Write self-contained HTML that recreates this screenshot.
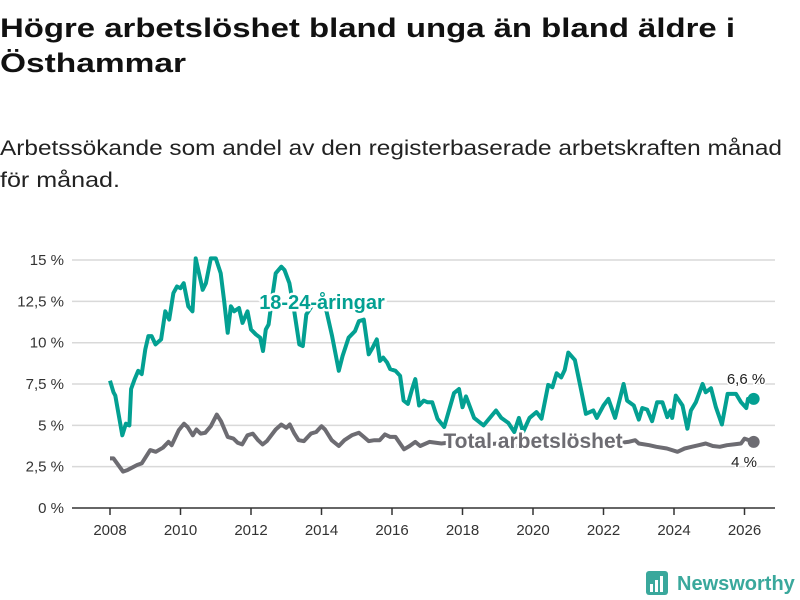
<!DOCTYPE html>
<html><head><meta charset="utf-8"><style>
body{margin:0;background:#fff;}
svg{display:block;font-family:"Liberation Sans",sans-serif;}
</style></head><body>
<svg id="chart" width="800" height="600" viewBox="0 0 800 600">
<text x="0" y="37" font-size="27" font-weight="bold" fill="#111" textLength="735" lengthAdjust="spacingAndGlyphs">Högre arbetslöshet bland unga än bland äldre i</text>
<text x="0" y="72" font-size="27" font-weight="bold" fill="#111" textLength="186" lengthAdjust="spacingAndGlyphs">Östhammar</text>
<text x="0" y="155" font-size="21" fill="#222" textLength="782" lengthAdjust="spacingAndGlyphs">Arbetssökande som andel av den registerbaserade arbetskraften månad</text>
<text x="0" y="187" font-size="21" fill="#222" textLength="120" lengthAdjust="spacingAndGlyphs">för månad.</text>
<g id="grid"></g>
<g id="xaxis"></g>
<g id="series"></g>
<g id="labels"></g>
<g>
<rect x="646" y="571" width="22" height="24" rx="3" fill="#3aa89c"/>
<rect x="650" y="584" width="3" height="8" fill="#fff"/><rect x="655" y="580" width="3" height="12" fill="#fff"/><rect x="660" y="576" width="3" height="16" fill="#fff"/>
<text x="677" y="590" font-size="20" font-weight="bold" fill="#3aa89c">Newsworthy</text>
</g>
</svg>
<script>
const yTickValues=[0,2.5,5,7.5,10,12.5,15];
const yTickLabels=["0 %","2,5 %","5 %","7,5 %","10 %","12,5 %","15 %"];
const xTickYears=[2008,2010,2012,2014,2016,2018,2020,2022,2024,2026];
const youthYears=[2008.0,2008.1,2008.15,2008.35,2008.45,2008.55,2008.6,2008.7,2008.8,2008.9,2009.0,2009.09,2009.18,2009.29,2009.45,2009.57,2009.68,2009.8,2009.9,2010.0,2010.09,2010.22,2010.34,2010.43,2010.63,2010.72,2010.86,2011.0,2011.14,2011.24,2011.34,2011.43,2011.52,2011.66,2011.76,2011.9,2012.0,2012.14,2012.26,2012.34,2012.42,2012.5,2012.6,2012.7,2012.86,2012.95,2013.09,2013.22,2013.37,2013.47,2013.57,2013.75,2014.1,2014.3,2014.49,2014.6,2014.77,2014.95,2015.06,2015.2,2015.34,2015.45,2015.57,2015.66,2015.75,2015.86,2015.95,2016.1,2016.23,2016.33,2016.45,2016.57,2016.66,2016.77,2016.9,2017.0,2017.14,2017.29,2017.48,2017.76,2017.9,2018.0,2018.1,2018.33,2018.6,2018.95,2019.1,2019.3,2019.47,2019.6,2019.72,2019.9,2020.1,2020.24,2020.43,2020.55,2020.67,2020.8,2020.9,2021.0,2021.19,2021.38,2021.5,2021.71,2021.81,2022.0,2022.14,2022.33,2022.57,2022.67,2022.86,2023.0,2023.1,2023.24,2023.38,2023.52,2023.67,2023.81,2023.9,2023.95,2024.05,2024.24,2024.38,2024.48,2024.62,2024.81,2024.9,2025.05,2025.19,2025.36,2025.52,2025.76,2025.9,2026.05,2026.1,2026.26];
const youthValues=[7.7,7.0,6.8,4.4,5.1,5.0,7.2,7.8,8.3,8.1,9.6,10.4,10.4,9.9,10.2,11.9,11.4,13.0,13.4,13.3,13.6,12.2,11.9,15.1,13.2,13.6,15.1,15.1,14.2,12.5,10.6,12.2,11.9,12.1,11.2,11.9,10.8,10.5,10.3,9.5,10.8,11.1,12.7,14.2,14.6,14.4,13.6,12.0,9.9,9.8,11.7,12.3,12.3,10.4,8.3,9.2,10.3,10.7,11.3,11.4,9.3,9.7,10.2,8.9,9.1,8.8,8.4,8.3,8.0,6.5,6.3,7.2,7.8,6.2,6.5,6.4,6.4,5.4,4.9,6.95,7.2,6.1,6.75,5.45,5.0,5.9,5.45,5.15,4.6,5.45,4.6,5.45,5.8,5.4,7.45,7.3,8.15,7.9,8.35,9.4,8.95,7.0,5.7,5.9,5.45,6.2,6.6,5.45,7.5,6.5,6.2,5.35,6.05,5.95,5.25,6.4,6.4,5.5,5.9,5.45,6.8,6.2,4.8,5.9,6.4,7.5,7.0,7.25,6.1,5.05,6.9,6.9,6.4,6.05,6.6,6.6];
const totalYears=[2008.0,2008.1,2008.37,2008.5,2008.77,2008.9,2009.14,2009.3,2009.5,2009.66,2009.75,2009.95,2010.1,2010.2,2010.35,2010.45,2010.57,2010.7,2010.86,2011.03,2011.15,2011.34,2011.5,2011.62,2011.75,2011.9,2012.05,2012.2,2012.33,2012.45,2012.7,2012.86,2013.0,2013.1,2013.23,2013.35,2013.5,2013.7,2013.85,2014.0,2014.1,2014.29,2014.49,2014.65,2014.86,2015.06,2015.2,2015.34,2015.5,2015.65,2015.8,2015.95,2016.1,2016.34,2016.5,2016.66,2016.8,2017.06,2017.4,2017.8,2018.3,2019.0,2019.7,2020.4,2021.0,2021.7,2022.3,2022.7,2022.9,2023.0,2023.3,2023.5,2023.8,2024.1,2024.3,2024.5,2024.7,2024.9,2025.1,2025.3,2025.5,2025.7,2025.9,2026.0,2026.26];
const totalValues=[3.0,3.0,2.2,2.3,2.6,2.7,3.5,3.4,3.65,4.0,3.8,4.7,5.1,4.9,4.4,4.75,4.5,4.55,4.95,5.65,5.25,4.3,4.2,3.95,3.85,4.4,4.5,4.1,3.85,4.05,4.75,5.05,4.85,5.05,4.5,4.1,4.05,4.5,4.6,4.95,4.75,4.1,3.75,4.1,4.4,4.55,4.3,4.05,4.1,4.1,4.45,4.3,4.3,3.55,3.75,4.0,3.75,4.0,3.9,4.0,3.8,3.9,3.7,3.9,4.0,3.9,3.9,4.0,4.1,3.9,3.8,3.7,3.6,3.4,3.6,3.7,3.8,3.9,3.75,3.7,3.8,3.85,3.9,4.2,4.0];
const NS="http://www.w3.org/2000/svg";
const x0=110,pxPerYear=35.25,y0=508,pxPerPct=16.53;
function xs(y){return x0+(y-2008)*pxPerYear;}
function ys(v){return y0-v*pxPerPct;}
function mk(tag,attrs,parent){const e=document.createElementNS(NS,tag);for(const k in attrs)e.setAttribute(k,attrs[k]);parent.appendChild(e);return e;}
const grid=document.getElementById('grid');
yTickValues.forEach((v,i)=>{
 if(v>0){const l=mk('line',{x1:72,x2:775,y1:ys(v),y2:ys(v),stroke:'#d9d9d9','stroke-width':1.5},grid);
 
 }
 const t=mk('text',{x:64,y:ys(v)+5,'text-anchor':'end','font-size':15,fill:'#333'},grid);
 t.textContent=yTickLabels[i];
 
 
});
const xa=document.getElementById('xaxis');
const ax=mk('line',{x1:72,x2:775,y1:508,y2:508,stroke:'#333','stroke-width':1.5},xa);


xTickYears.forEach(yr=>{
 const tk=mk('line',{x1:xs(yr),x2:xs(yr),y1:508,y2:515,stroke:'#333','stroke-width':1.5},xa);
 
 
 const t=mk('text',{x:xs(yr),y:535,'text-anchor':'middle','font-size':15,fill:'#333'},xa);
 t.textContent=yr;
 
 
});
const S=document.getElementById('series');
function path(yrs,vals){return yrs.map((y,i)=>(i?'L':'M')+xs(y).toFixed(1)+','+ys(vals[i]).toFixed(1)).join('');}
const tp=mk('path',{d:path(totalYears,totalValues),fill:'none',stroke:'#6d6c72','stroke-width':4,'stroke-linejoin':'round'},S);


const yp=mk('path',{d:path(youthYears,youthValues),fill:'none',stroke:'#03a092','stroke-width':4,'stroke-linejoin':'round'},S);


const lastY=youthYears.length-1,lastT=totalYears.length-1;
const yd=mk('circle',{cx:xs(youthYears[lastY]),cy:ys(youthValues[lastY]),r:6,fill:'#03a092'},S);


const td=mk('circle',{cx:xs(totalYears[lastT]),cy:ys(totalValues[lastT]),r:6,fill:'#6d6c72'},S);


const L=document.getElementById('labels');
function lab(txt,x,y,size,col,bold,anchor,name){
 const t=mk('text',{x:x,y:y,'font-size':size,fill:col,'font-weight':bold?'bold':'normal','text-anchor':anchor,stroke:'#fff','stroke-width':bold?5:3,'paint-order':'stroke','stroke-linejoin':'round'},L);
 t.textContent=txt;
 
 
}
lab('18-24-åringar',322,309,20,'#03a092',true,'middle','youth-series-label');
lab('Total arbetslöshet',533,448,21,'#6d6c72',true,'middle','total-series-label');
lab('6,6 %',746,384,15,'#222',false,'middle','youth-end-value');
lab('4 %',744,467,15,'#222',false,'middle','total-end-value');
</script>
</body></html>
